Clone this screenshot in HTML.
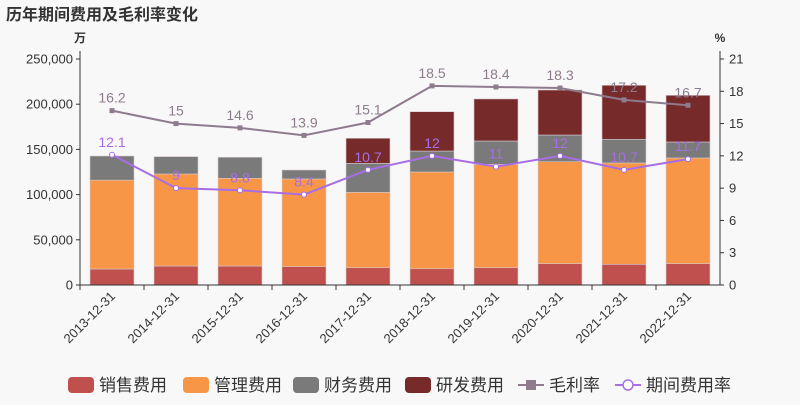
<!DOCTYPE html>
<html><head><meta charset="utf-8"><style>
body{margin:0;background:#f8f8f8;font-family:"Liberation Sans","Noto Sans CJK SC",sans-serif}
svg text{font-family:"Liberation Sans","Noto Sans CJK SC",sans-serif}
</style></head><body>
<svg id="c" width="800" height="400">
<text x="6" y="20" font-size="16" font-weight="bold" fill="#333">历年期间费用及毛利率变化</text>
<text x="80" y="42" font-size="12" font-weight="bold" fill="#333" text-anchor="middle">万</text>
<text x="720" y="42" font-size="12" font-weight="bold" fill="#333" text-anchor="middle">%</text>
<g id="grid"></g><g id="bars"></g><g id="axes"></g><g id="lines"></g><g id="legend"></g>
</svg>
<script>
const categories=["2013-12-31","2014-12-31","2015-12-31","2016-12-31","2017-12-31","2018-12-31","2019-12-31","2020-12-31","2021-12-31","2022-12-31"];
const sales=[17700,21000,21000,20300,19100,18000,19100,23600,22900,23600];
const mgmt=[98300,101800,97000,97000,83400,107000,114400,112800,112100,116900];
const fin=[26700,19200,23300,9900,32100,23200,25800,29500,26200,17700];
const rd=[0,0,0,0,27700,43500,46500,49800,59700,51600];
const gross=[16.2,15,14.6,13.9,15.1,18.5,18.4,18.3,17.2,16.7];
const period=[12.1,9,8.8,8.4,10.7,12,11,12,10.7,11.7];
const leftTicks=[0,50000,100000,150000,200000,250000];
const rightTicks=[0,3,6,9,12,15,18,21];
const NS="http://www.w3.org/2000/svg";
const X0=80,X1=720,Y0=285,Y1=59;
const bw=(X1-X0)/categories.length;
const xc=i=>X0+bw*(i+0.5);
const yL=v=>Y0-(v/250000)*(Y0-Y1);
const yR=v=>Y0-(v/21)*(Y0-Y1);
function mk(tag,attrs,parent,text){const e=document.createElementNS(NS,tag);for(const k in attrs)e.setAttribute(k,attrs[k]);if(text!==undefined)e.textContent=text;document.getElementById(parent).appendChild(e);return e;}
leftTicks.forEach(t=>{
  const l=mk('text',{x:X0-7,y:yL(t)+4.5,'font-size':13,fill:'#333','text-anchor':'end'},'axes',t.toLocaleString('en-US'));
  
  
  const tk=mk('line',{x1:X0-4,x2:X0,y1:yL(t),y2:yL(t),stroke:'#333'},'axes');
  
  
});
rightTicks.forEach(t=>{
  const l=mk('text',{x:X1+9,y:yR(t)+4.5,'font-size':13,fill:'#333'},'axes',t);
  
  
  const tk=mk('line',{x1:X1,x2:X1+4,y1:yR(t),y2:yR(t),stroke:'#333'},'axes');
  
  
});
let a=mk('line',{x1:X0,x2:X0,y1:Y1-8,y2:Y0,stroke:'#333'},'axes');

a=mk('line',{x1:X1,x2:X1,y1:Y1-8,y2:Y0,stroke:'#333'},'axes');

a=mk('line',{x1:X0,x2:X1,y1:Y0,y2:Y0,stroke:'#333'},'axes');

categories.forEach((c,i)=>{
  const tk=mk('line',{x1:X0+bw*i,x2:X0+bw*i,y1:Y0,y2:Y0+5,stroke:'#333'},'axes');
  
  
  const t=mk('text',{x:xc(i)+4,y:Y0+12,'font-size':13,fill:'#333','text-anchor':'end',transform:`rotate(-45 ${xc(i)+4} ${Y0+12})`},'axes',c);
  
  
});
const series=[[sales,'#c0504d','sales'],[mgmt,'#f79646','mgmt'],[fin,'#7a7a7a','fin'],[rd,'#772a2a','rd']];
categories.forEach((c,i)=>{
  let cum=0;
  series.forEach(([arr,col,nm])=>{
    const v=arr[i]; if(!v) return;
    const r=mk('rect',{x:xc(i)-22,width:44,y:yL(cum+v),height:yL(cum)-yL(cum+v),fill:col,stroke:'#d8c8cc','stroke-width':0.6},'bars');
    
    
    cum+=v;
  });
});
function line(arr,col,nm,sq){
  const p=mk('polyline',{points:arr.map((v,i)=>xc(i)+','+yR(v)).join(' '),fill:'none',stroke:col,'stroke-width':2},'lines');
  
  
  arr.forEach((v,i)=>{
    let m;
    if(sq) m=mk('rect',{x:xc(i)-2.5,y:yR(v)-2.5,width:5,height:5,fill:col},'lines');
    else m=mk('circle',{cx:xc(i),cy:yR(v),r:2.5,fill:'#fff',stroke:col,'stroke-width':1},'lines');
    
    
    const t=mk('text',{x:xc(i),y:yR(v)-8,'font-size':14,fill:col,'text-anchor':'middle'},'lines',v);
    
    
  });
}
line(gross,'#8e7b8e','gross-margin',true);
line(period,'#a76ee6','period-expense-rate',false);
const legend=[['销售费用','#c0504d','bar',68],['管理费用','#f79646','bar',183],['财务费用','#7a7a7a','bar',293],['研发费用','#772a2a','bar',405],['毛利率','#8e7b8e','sq',518],['期间费用率','#a76ee6','ci',615]];
legend.forEach(([n,col,t,x])=>{
  let m;
  if(t==='bar') m=mk('rect',{x:x,y:377,width:26,height:16,rx:4,fill:col},'legend');
  else {
    mk('line',{x1:x,x2:x+26,y1:385,y2:385,stroke:col,'stroke-width':2},'legend');
    if(t==='sq') m=mk('rect',{x:x+8,y:380,width:10,height:10,fill:col},'legend');
    else m=mk('circle',{cx:x+13,cy:385,r:5,fill:'#fff',stroke:col,'stroke-width':1.5},'legend');
  }
  
  
  const tx=mk('text',{x:x+31,y:391,'font-size':17,fill:'#333'},'legend',n);
  
  
});
</script>
</body></html>
